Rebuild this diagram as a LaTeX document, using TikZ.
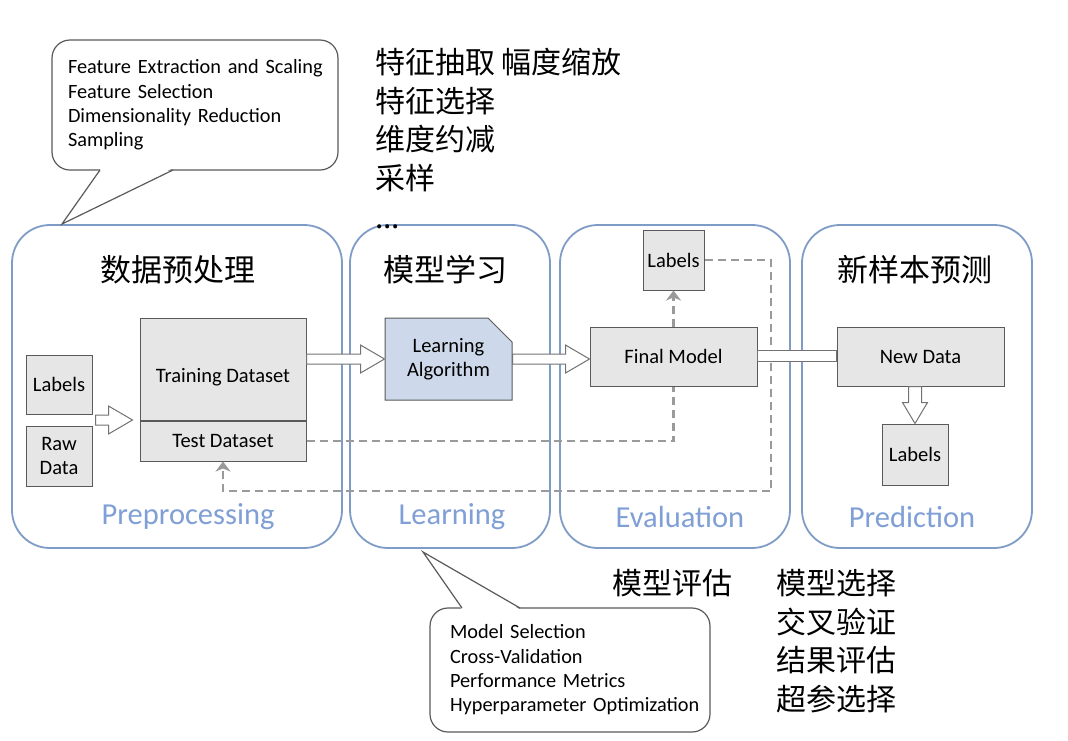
\documentclass[tikz,border=0pt]{standalone}
\usepackage{fontspec}
\setmainfont{Carlito}
\newfontfamily\cjk{Noto Sans CJK SC}
\usetikzlibrary{arrows.meta,positioning,calc,shapes.misc}
\definecolor{panelcol}{HTML}{7F9CC6}
\definecolor{tagcol}{HTML}{7F9FD6}
\definecolor{boxfill}{HTML}{E6E6E6}
\definecolor{boxline}{HTML}{5A5A5A}
\definecolor{algofill}{HTML}{CDD9EA}
\definecolor{flowcol}{HTML}{9A9A9A}
% hollow block arrow, left to right
\newcommand{\fatright}[2]{\draw[fat] let \p1=(#1), \p2=(#2) in
  (\x1,\y1+5pt) -- (\x2-24pt,\y1+5pt) -- (\x2-24pt,\y1+14pt) -- (\x2,\y1)
  -- (\x2-24pt,\y1-14pt) -- (\x2-24pt,\y1-5pt) -- (\x1,\y1-5pt) -- cycle;}
% hollow block arrow, top to bottom
\newcommand{\fatdown}[2]{\draw[fat] let \p1=(#1), \p2=(#2) in
  (\x1-6.5pt,\y1) -- (\x1-6.5pt,\y2+21pt) -- (\x1-12.5pt,\y2+21pt) -- (\x1,\y2)
  -- (\x1+12.5pt,\y2+21pt) -- (\x1+6.5pt,\y2+21pt) -- (\x1+6.5pt,\y1) -- cycle;}

\begin{document}
\begin{tikzpicture}[
  x=1pt,y=-1pt,
  panel/.style={draw=panelcol,line width=1.8pt,rounded corners=38pt,minimum height=323pt},
  box/.style={draw=boxline,fill=boxfill,line width=1pt,align=center,inner sep=2pt,
    font=\fontsize{20.5}{23.5}\selectfont},
  tag/.style={text=tagcol,font=\fontsize{30.5}{34}\selectfont},
  title/.style={font=\cjk\fontsize{31}{36}\selectfont},
  note/.style={font=\cjk\fontsize{30}{38.7}\selectfont,align=left,inner sep=0pt},
  fat/.style={draw=boxline!85,fill=white,line width=1pt},
  flow/.style={draw=flowcol,line width=2.4pt,dash pattern=on 8pt off 5pt},
  flowtip/.style={-{Stealth[length=10pt,width=15pt,inset=3pt]}},
  callout/.style={draw=boxline,fill=white,line width=1.2pt,rounded corners=18pt,align=left,
    font=\fontsize{20.3}{24.3}\selectfont}
]
\useasboundingbox[fill=white] (0,0) rectangle (1068,740);

% stage panels
\node[panel,minimum width=330pt] (pre) at (177,386.5) {};
\node[panel,minimum width=200pt] (lrn) at (450,386.5) {};
\node[panel,minimum width=230pt] (eva) at (675,386.5) {};
\node[panel,minimum width=230pt] (prd) at (917,386.5) {};

\node[title] at (178,270) {数据预处理};
\node[title] at (445,270) {模型学习};
\node[title] at (915,270) {新样本预测};

\node[tag] at (188,517) {Preprocessing};
\node[tag] at (452,517) {Learning};
\node[tag] at (680,517) {Evaluation};
\node[tag] at (912,517) {Prediction};

% boxes
\node[box,minimum width=66pt,minimum height=59pt] (lab) at (59,384.5) {Labels};
\node[box,minimum width=66pt,minimum height=60pt,below=11pt of lab] (raw) {Raw\\Data};
\node[box,minimum width=166pt,minimum height=102pt] (train) at (223,369) {\raisebox{-13pt}[0pt][0pt]{Training Dataset}};
\node[box,minimum width=166pt,minimum height=40pt,below=0pt of train] (test) {Test Dataset};
\node[box,fill=algofill,chamfered rectangle,chamfered rectangle corners=north east,
  chamfered rectangle xsep=12pt,chamfered rectangle ysep=12pt,
  minimum width=127pt,minimum height=82pt] (algo) at (448.5,359) {Learning\\Algorithm};
\node[box,minimum width=167pt,minimum height=59pt] (final) at (673.5,356.5) {Final Model};
\node[box,minimum width=61pt,minimum height=60pt] (evlab) at (673.5,260) {Labels};
\node[box,minimum width=167pt,minimum height=59pt] (newd) at (920.5,356.5) {New Data};
\node[box,minimum width=66pt,minimum height=61pt] (prlab) at (915,454.5) {Labels};

% dashed flows
\coordinate (back) at (771,491);
\draw[flow] (test.east) -| (final.south);
\draw[flow,flowtip] (final.north) -- (evlab.south);
\draw[flow,flowtip] (evlab.east) -| (back) -| (test.south);

% block arrows
\fatright{$(lab.south east)!.5!(raw.north east)+(3,0)$}{[xshift=-7pt]train.west}
\fatright{train.east |- algo.west}{algo.west}
\fatright{algo.east}{final.west}
\draw[fat] ([yshift=6pt]final.east) rectangle ([yshift=-5pt]newd.west);
\fatdown{prlab.north |- newd.south}{prlab.north}

% callouts
\node[callout,text width=262pt,minimum width=286pt,minimum height=130pt] (prenote) at (195,105)
  {\leftskip=4pt Feature Extraction and Scaling\\Feature Selection\\Dimensionality Reduction\\Sampling\par};
\fill[white] (101,168.5) -- (62,224) -- (172,168.5) -- cycle;
\draw[boxline,line width=1.2pt,line join=miter] (100,170) -- (62,224) -- (173,170);

\node[callout,text width=262pt,minimum width=280pt,minimum height=124pt] (evanote) at (570,670)
  {\leftskip=11pt Model Selection\\Cross-Validation\\Performance Metrics\\Hyperparameter Optimization\par};
\fill[white] (462,609.5) -- (423,552) -- (520,609.5) -- cycle;
\draw[boxline,line width=1.2pt,line join=miter] (462,608) -- (423,552) -- (520,608);

% chinese notes
\node[note,anchor=north west] (prezh) at (375,48) {特征抽取 幅度缩放\\特征选择\\维度约减\\采样\\...};
\node[note,anchor=north west] (evazh) at (612,569) {模型评估};
\node[note,anchor=north west] (selzh) at (776,569) {模型选择\\交叉验证\\结果评估\\超参选择};
\end{tikzpicture}
\end{document}
